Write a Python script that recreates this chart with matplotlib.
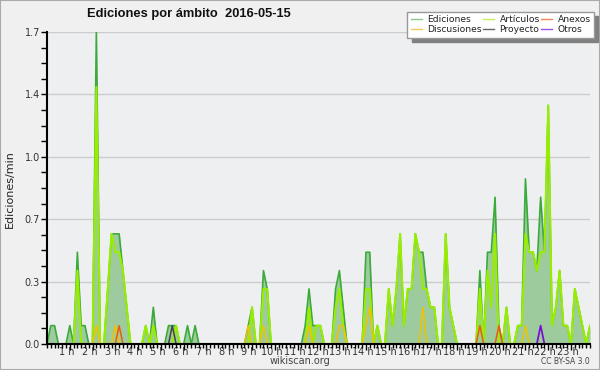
import numpy as np
import matplotlib
matplotlib.use("Agg")
import matplotlib.pyplot as plt
from matplotlib.lines import Line2D
from matplotlib.patches import Rectangle
from matplotlib.ticker import FixedLocator, MultipleLocator
from matplotlib.transforms import ScaledTranslation

# edits per minute, one value per 10-minute bin (144 bins)
ediciones = [
    0, 0.1, 0.1, 0, 0, 0, 0.1, 0, 0.5, 0.1, 0.1, 0,
    0, 1.7, 0, 0, 0.3, 0.6, 0.6, 0.6, 0.4, 0.2, 0, 0,
    0, 0, 0.1, 0, 0.2, 0, 0, 0, 0.1, 0.1, 0.1, 0,
    0, 0.1, 0, 0.1, 0, 0, 0, 0, 0, 0, 0, 0,
    0, 0, 0, 0, 0, 0.1, 0.2, 0, 0, 0.4, 0.3, 0,
    0, 0, 0, 0, 0, 0, 0, 0, 0.1, 0.3, 0.1, 0.1,
    0.1, 0, 0, 0, 0.3, 0.4, 0.2, 0, 0, 0, 0, 0,
    0.5, 0.5, 0, 0.1, 0, 0, 0.3, 0.1, 0.3, 0.6, 0.1, 0.3,
    0.3, 0.6, 0.5, 0.5, 0.3, 0.2, 0.2, 0, 0, 0.6, 0.2, 0.1,
    0, 0, 0, 0, 0, 0, 0.4, 0, 0.5, 0.5, 0.8, 0.1,
    0, 0.2, 0, 0, 0.1, 0.1, 0.9, 0.5, 0.5, 0.4, 0.8, 0.5,
    1.3, 0.1, 0.2, 0.4, 0.1, 0.1, 0, 0.3, 0.2, 0.1, 0, 0.1,
]
articulos = [
    0, 0, 0, 0, 0, 0, 0, 0, 0.4, 0, 0, 0,
    0, 1.4, 0, 0, 0.3, 0.6, 0.5, 0.5, 0.4, 0.2, 0, 0,
    0, 0, 0.1, 0, 0.1, 0, 0, 0, 0, 0, 0.1, 0,
    0, 0, 0, 0, 0, 0, 0, 0, 0, 0, 0, 0,
    0, 0, 0, 0, 0, 0, 0.2, 0, 0, 0.3, 0.3, 0,
    0, 0, 0, 0, 0, 0, 0, 0, 0, 0.2, 0, 0.1,
    0.1, 0, 0, 0, 0.2, 0.3, 0.1, 0, 0, 0, 0, 0,
    0.3, 0.3, 0, 0.1, 0, 0, 0.3, 0.1, 0.3, 0.6, 0.1, 0.3,
    0.3, 0.6, 0.5, 0.3, 0.3, 0.2, 0.2, 0, 0, 0.6, 0.2, 0.1,
    0, 0, 0, 0, 0, 0, 0.3, 0, 0.4, 0.2, 0.6, 0,
    0, 0.2, 0, 0, 0.1, 0.1, 0.6, 0.5, 0.5, 0.4, 0.5, 0.5,
    1.3, 0.1, 0.2, 0.4, 0.1, 0.1, 0, 0.3, 0.2, 0.1, 0, 0.1,
]
# sparse series as (bin, value)
discusiones = [(13, 0.1), (18, 0.1), (53, 0.1), (57, 0.1), (69, 0.1), (77, 0.1),
               (78, 0.1), (84, 0.1), (85, 0.2), (99, 0.2), (126, 0.1)]
anexos = [(19, 0.1), (114, 0.1), (119, 0.1)]
proyecto = [(33, 0.1)]
otros = [(130, 0.1)]

hour_labels = [f"{h} h" for h in range(1, 24)]
y_ticks = [0, 0.34, 0.68, 1.02, 1.36, 1.7]


def sparse_to_series(pairs, n):
    values = np.zeros(n)
    for i, v in pairs:
        values[i] = v
    return values


def main():
    n = len(ediciones)
    minutes = np.arange(n) * 10

    fig = plt.figure(figsize=(6, 3.7), dpi=100, facecolor="#f0f0f0")
    ax = fig.add_axes([47 / 600, 26 / 370, 543 / 600, 312 / 370])
    ax.set_facecolor("#eeeff1")

    for y in y_ticks[1:]:
        ax.axhline(y, color="#cccccc", lw=1, zorder=0)

    ax.fill_between(minutes, ediciones, color="#9dcb9d", lw=0, zorder=1)
    ax.plot(minutes, ediciones, color="#3aaa3a", lw=1.2, zorder=2)
    ax.plot(minutes, articulos, color="#99ee00", lw=1.5, zorder=2)
    ax.plot(minutes, sparse_to_series(discusiones, n), color="#eec400", lw=1.1, zorder=2)
    ax.plot(minutes, sparse_to_series(anexos, n), color="#ee5a10", lw=1.1, zorder=2)
    ax.plot(minutes, sparse_to_series(proyecto, n), color="#444444", lw=1.1, zorder=2)
    ax.plot(minutes, sparse_to_series(otros, n), color="#7a10d0", lw=1.3, zorder=2)

    ax.set_xlim(0, minutes[-1])
    ax.set_ylim(0, 1.7)

    for side in ["top", "right"]:
        ax.spines[side].set_visible(False)
    for side in ["left", "bottom"]:
        ax.spines[side].set_color("black")
        ax.spines[side].set_linewidth(1.5)
        ax.spines[side].set_zorder(3)

    hours = np.arange(1, 24) * 60
    ax.xaxis.set_major_locator(FixedLocator(hours))
    ax.set_xticklabels(hour_labels)
    ax.xaxis.set_minor_locator(MultipleLocator(10))
    ax.tick_params(axis="x", which="major", length=4, width=1, color="black",
                   labelsize=7, labelcolor="#333333", pad=-1.5)
    ax.tick_params(axis="x", which="minor", length=3, width=1, color="black")
    shift = ScaledTranslation(-0.03, 0, fig.dpi_scale_trans)
    for label in ax.get_xticklabels():
        label.set_transform(label.get_transform() + shift)

    ax.yaxis.set_major_locator(FixedLocator(y_ticks))
    ax.set_yticklabels([f"{v:.1f}" for v in y_ticks])
    ax.yaxis.set_minor_locator(MultipleLocator(0.085))
    ax.tick_params(axis="y", which="major", length=4, width=1, color="black",
                   labelsize=7, labelcolor="#333333", pad=1)
    ax.tick_params(axis="y", which="minor", length=4, width=1, color="black")

    fig.text(0.017, 0.49, "Ediciones/min", rotation=90, ha="center", va="center",
             fontsize=8, color="#222222")
    fig.text(0.314, 0.962, "Ediciones por ámbito  2016-05-15", ha="center",
             va="center", fontsize=9.3, fontweight="bold", color="#111111",
             family="Liberation Sans")
    fig.text(0.5, 0.024, "wikiscan.org", ha="center", va="center",
             fontsize=7, color="#444444")
    fig.text(0.983, 0.022, "CC BY-SA 3.0", ha="right", va="center",
             fontsize=5.5, color="#444444")

    handles = [
        Line2D([], [], color="#88cc88", lw=1),
        Line2D([], [], color="#eecc55", lw=1),
        Line2D([], [], color="#ccee55", lw=1),
        Line2D([], [], color="#666666", lw=1),
        Line2D([], [], color="#ee8855", lw=1),
        Line2D([], [], color="#9955ee", lw=1),
    ]
    labels = ["Ediciones", "Discusiones", "Artículos", "Proyecto", "Anexos", "Otros"]
    leg = fig.legend(handles, labels, ncol=3, loc="upper right",
                     bbox_to_anchor=(0.99, 0.968), borderaxespad=0,
                     fontsize=6.6, frameon=True,
                     fancybox=False, edgecolor="#999999", facecolor="white",
                     framealpha=1, handlelength=1.2, handletextpad=0.6,
                     columnspacing=0.15, labelspacing=0.15, borderpad=0.35,
                     shadow={"ox": 3, "oy": -3, "color": "#808080", "alpha": 1})
    for t in leg.get_texts():
        t.set_color("#222222")

    fig.patches.append(Rectangle((0, 0), 1, 1, transform=fig.transFigure,
                                 fill=False, edgecolor="#aaaaaa", lw=1.5))

    fig.savefig("out.png", dpi=100, facecolor=fig.get_facecolor())


if __name__ == "__main__":
    main()
